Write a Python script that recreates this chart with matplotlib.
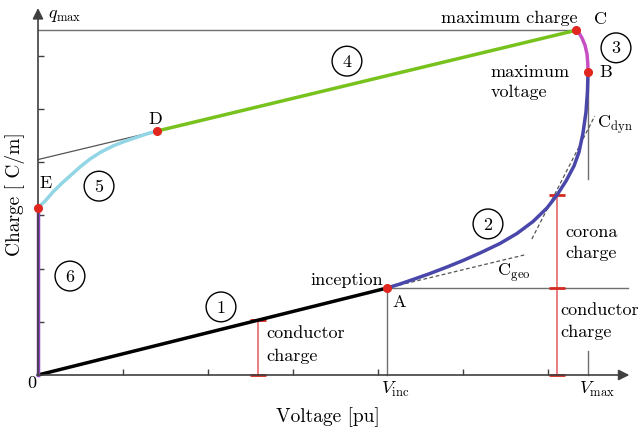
import matplotlib
matplotlib.use('Agg')
import matplotlib.pyplot as plt

plt.rcParams['font.family'] = 'cmr10'
plt.rcParams['mathtext.fontset'] = 'cm'
plt.rcParams['axes.unicode_minus'] = False

# key points of the charge-voltage loop
point_a = (4.106, 1.635)
point_b = (6.471, 5.695)
point_c = (6.33, 6.48)
point_d = (1.40, 4.586)
point_e = (0.0, 3.14)
q_max = 6.48
v_inc = 4.106
v_max = 6.471

# (1) conductor charge only
seg1_x = [0.0, 4.106]
seg1_y = [0.0, 1.635]
# (2) corona onset up to maximum voltage
seg2_x = [4.106, 4.259, 4.412, 4.612, 4.812, 5.000, 5.200, 5.435, 5.635, 5.824,
          5.988, 6.106, 6.212, 6.306, 6.365, 6.412, 6.447, 6.464, 6.471]
seg2_y = [1.635, 1.711, 1.795, 1.908, 2.030, 2.152, 2.293, 2.472, 2.660, 2.885,
          3.139, 3.383, 3.647, 3.929, 4.192, 4.549, 4.944, 5.320, 5.695]
# (3) charge keeps growing after peak voltage
seg3_x = [6.471, 6.468, 6.459, 6.435, 6.400, 6.365, 6.33]
seg3_y = [5.695, 5.865, 6.034, 6.203, 6.334, 6.428, 6.48]
# (4) unloading at constant charge slope
seg4_x = [6.33, 1.40]
seg4_y = [6.48, 4.586]
# (5) back corona
seg5_x = [1.400, 1.282, 1.165, 1.024, 0.882, 0.741, 0.612, 0.494, 0.376, 0.271,
          0.176, 0.094, 0.0]
seg5_y = [4.586, 4.534, 4.470, 4.395, 4.305, 4.192, 4.060, 3.910, 3.741, 3.590,
          3.440, 3.289, 3.14]
# (6) residual charge at zero voltage
seg6_x = [0.0, 0.0]
seg6_y = [3.14, 0.0]

cgeo_x = [4.106, 5.72]
cgeo_y = [1.635, 2.256]
cdyn_x = [5.81, 6.55]
cdyn_y = [2.556, 4.868]

bar1_x = 2.59
bar1_top = 1.03
bar2_x = 6.106
bar2_top = 3.383

fig = plt.figure(figsize=(6.42, 4.35), dpi=100)
ax = fig.add_axes([0, 0, 1, 1])
ax.set_xlim(-0.447, 7.106)
ax.set_ylim(-1.109, 7.068)

axis_color = '#404040'
for side in ['top', 'right']:
    ax.spines[side].set_visible(False)
ax.spines['left'].set_position(('data', 0))
ax.spines['bottom'].set_position(('data', 0))
ax.spines['left'].set_bounds(0, 6.8)
ax.spines['bottom'].set_bounds(0, 6.85)
for side in ['left', 'bottom']:
    ax.spines[side].set_color(axis_color)
    ax.spines[side].set_linewidth(1.2)
ax.set_xticks([1, 2, 3, 4, 5, 6])
ax.set_yticks([1, 2, 3, 4, 5, 6])
ax.tick_params(direction='in', length=4, width=1, color=axis_color,
               labelbottom=False, labelleft=False)
ax.annotate('', xy=(6.99, 0), xytext=(6.8, 0),
            arrowprops=dict(arrowstyle='-|>', color=axis_color, lw=1.2, mutation_scale=16))
ax.annotate('', xy=(0, 6.95), xytext=(0, 6.75),
            arrowprops=dict(arrowstyle='-|>', color=axis_color, lw=1.2, mutation_scale=16))

# guide lines
guide = '#707070'
ax.plot([0, point_c[0]], [q_max, q_max], color=guide, lw=1)
ax.plot([v_inc, 6.94], [point_a[1], point_a[1]], color=guide, lw=1)
ax.plot([v_inc, v_inc], [0, point_a[1]], color=guide, lw=1)
ax.plot([v_max, v_max], [3.68, point_b[1]], color=guide, lw=1)
ax.plot([v_max, v_max], [0, 0.457], color=guide, lw=1)
ax.plot([0, point_d[0]], [4.05, point_d[1]], color='#555555', lw=0.9)
ax.plot(cgeo_x, cgeo_y, color='#555555', lw=0.9, ls=(0, (3, 2)))
ax.plot(cdyn_x, cdyn_y, color='#555555', lw=0.9, ls=(0, (3, 2)))

# charge bars
bar_color = '#e87474'
cap_color = '#d42a20'
ax.plot([bar1_x, bar1_x], [0, bar1_top], color=bar_color, lw=1.3)
ax.plot([bar1_x, bar1_x], [0, bar1_top], ls='none', marker='_', ms=12, mew=2, color=cap_color)
ax.plot([bar2_x, bar2_x], [0, bar2_top], color=bar_color, lw=1.3)
ax.plot([bar2_x] * 3, [0, point_a[1], bar2_top], ls='none', marker='_', ms=12, mew=2, color=cap_color)

# loop segments
lw = 2.5
ax.plot(seg1_x, seg1_y, color='black', lw=lw, solid_capstyle='round')
ax.plot(seg2_x, seg2_y, color='#4a47aa', lw=lw, solid_capstyle='round', solid_joinstyle='round')
ax.plot(seg3_x, seg3_y, color='#c74fc4', lw=lw, solid_capstyle='round', solid_joinstyle='round')
ax.plot(seg4_x, seg4_y, color='#78c21d', lw=lw, solid_capstyle='round')
ax.plot(seg5_x, seg5_y, color='#92d6e6', lw=lw, solid_capstyle='round', solid_joinstyle='round')
ax.plot(seg6_x, seg6_y, color='#8c46c2', lw=lw)

dots = [point_a, point_b, point_c, point_d, point_e]
ax.plot([p[0] for p in dots], [p[1] for p in dots], 'o', color='#e0261e', ms=5.5, zorder=5)

fs = 13
circ = dict(boxstyle='circle,pad=0.4', fc='white', ec='black', lw=1)
for label, x, y in [('1', 2.153, 1.28), ('2', 5.294, 2.84), ('3', 6.80, 6.15),
                    ('4', 3.635, 5.90), ('5', 0.718, 3.55), ('6', 0.376, 1.86)]:
    ax.text(x, y, label, fontsize=fs, ha='center', va='center', bbox=circ)

ax.text(0.118, 6.77, r'$q_{\max}$', fontsize=fs, ha='left', va='center')
ax.text(6.35, 6.73, 'maximum charge', fontsize=fs, ha='right', va='center')
ax.text(6.62, 6.70, 'C', fontsize=fs, ha='center', va='center')
ax.text(6.68, 5.70, 'B', fontsize=fs, ha='center', va='center')
ax.text(5.32, 5.71, 'maximum', fontsize=fs, ha='left', va='center')
ax.text(5.32, 5.33, 'voltage', fontsize=fs, ha='left', va='center')
ax.text(6.58, 4.72, r'$\mathrm{C}_{\mathrm{dyn}}$', fontsize=fs, ha='left', va='center')
ax.text(1.376, 4.83, 'D', fontsize=fs, ha='center', va='center')
ax.text(0.094, 3.63, 'E', fontsize=fs, ha='center', va='center')
ax.text(2.69, 0.80, 'conductor', fontsize=fs, ha='left', va='center')
ax.text(2.69, 0.37, 'charge', fontsize=fs, ha='left', va='center')
ax.text(4.06, 1.80, 'inception', fontsize=fs, ha='right', va='center')
ax.text(4.25, 1.39, 'A', fontsize=fs, ha='center', va='center')
ax.text(5.40, 1.94, r'$\mathrm{C}_{\mathrm{geo}}$', fontsize=fs, ha='left', va='center')
ax.text(6.20, 2.70, 'corona', fontsize=fs, ha='left', va='center')
ax.text(6.20, 2.31, 'charge', fontsize=fs, ha='left', va='center')
ax.text(6.15, 1.24, 'conductor', fontsize=fs, ha='left', va='center')
ax.text(6.15, 0.82, 'charge', fontsize=fs, ha='left', va='center')
ax.text(-0.07, -0.13, '0', fontsize=fs, ha='center', va='center')
ax.text(4.20, -0.26, r'$V_{\mathrm{inc}}$', fontsize=fs, ha='center', va='center')
ax.text(6.58, -0.26, r'$V_{\mathrm{max}}$', fontsize=fs, ha='center', va='center')
ax.text(3.41, -0.77, 'Voltage [pu]', fontsize=14, ha='center', va='center')
ax.text(-0.27, 3.42, 'Charge [ C/m]', fontsize=14, ha='center', va='center', rotation=90)

fig.savefig('out.png', dpi=100)
